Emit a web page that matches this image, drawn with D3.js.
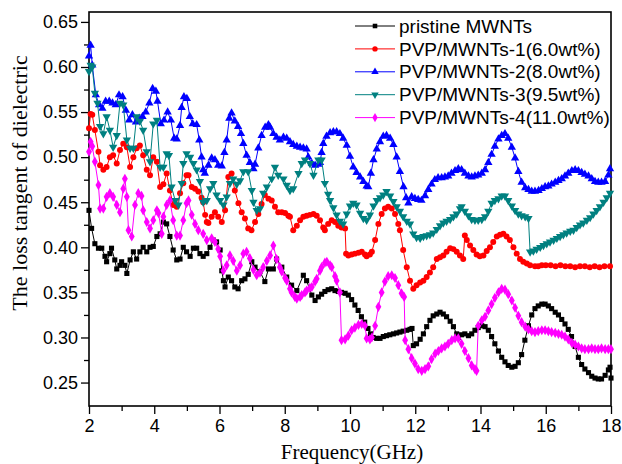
<!DOCTYPE html>
<html>
<head>
<meta charset="utf-8">
<script src="https://cdn.jsdelivr.net/npm/d3@7"></script>
<style>
  body { margin: 0; background: #fff; }
</style>
</head>
<body>
<svg id="chart" width="622" height="464"></svg>
<script>
// [frequency (GHz), loss tangent]
const pristine = [
  [2.00,0.441],[2.08,0.421],[2.18,0.404],[2.29,0.399],[2.39,0.399],[2.49,0.390],[2.54,0.384],[2.64,0.393],
  [2.69,0.399],[2.79,0.386],[2.85,0.376],[2.95,0.380],[3.00,0.384],[3.10,0.380],[3.16,0.371],[3.26,0.386],
  [3.36,0.395],[3.46,0.387],[3.56,0.395],[3.66,0.400],[3.77,0.395],[3.87,0.400],[3.97,0.401],[4.08,0.412],
  [4.18,0.415],[4.28,0.428],[4.38,0.426],[4.48,0.412],[4.58,0.397],[4.69,0.386],[4.79,0.387],[4.89,0.400],
  [4.99,0.395],[5.10,0.390],[5.20,0.399],[5.30,0.399],[5.40,0.393],[5.50,0.390],[5.61,0.393],[5.71,0.400],
  [5.81,0.408],[5.91,0.406],[6.02,0.397],[6.07,0.374],[6.12,0.363],[6.17,0.356],[6.27,0.367],[6.37,0.363],
  [6.47,0.356],[6.57,0.354],[6.68,0.363],[6.78,0.365],[6.88,0.370],[6.99,0.384],[7.09,0.378],[7.24,0.373],
  [7.39,0.362],[7.50,0.376],[7.65,0.376],[7.75,0.387],[7.91,0.378],[8.06,0.367],[8.21,0.358],[8.37,0.352],
  [8.57,0.369],[8.67,0.363],[8.83,0.347],[8.93,0.341],[9.03,0.345],[9.13,0.348],[9.23,0.351],[9.33,0.353],
  [9.44,0.354],[9.54,0.352],[9.64,0.351],[9.74,0.350],[9.85,0.349],[9.95,0.347],[10.05,0.342],[10.15,0.336],
  [10.25,0.330],[10.35,0.323],[10.45,0.317],[10.55,0.310],[10.63,0.304],[10.71,0.300],[10.82,0.299],[10.92,0.299],
  [11.02,0.301],[11.12,0.302],[11.22,0.303],[11.33,0.304],[11.43,0.305],[11.53,0.306],[11.63,0.307],[11.74,0.308],
  [11.84,0.309],[11.90,0.310],[11.94,0.291],[12.04,0.293],[12.15,0.298],[12.25,0.304],[12.35,0.312],[12.45,0.319],
  [12.55,0.324],[12.66,0.326],[12.76,0.328],[12.86,0.326],[12.96,0.323],[13.07,0.318],[13.17,0.312],[13.27,0.304],
  [13.32,0.300],[13.42,0.303],[13.52,0.304],[13.63,0.302],[13.73,0.304],[13.83,0.308],[13.93,0.311],[14.04,0.313],
  [14.14,0.312],[14.24,0.308],[14.34,0.301],[14.44,0.293],[14.55,0.285],[14.65,0.278],[14.75,0.273],[14.85,0.269],
  [14.96,0.267],[15.06,0.268],[15.16,0.272],[15.26,0.281],[15.36,0.297],[15.47,0.313],[15.57,0.325],[15.67,0.332],
  [15.77,0.335],[15.88,0.337],[15.98,0.337],[16.08,0.335],[16.18,0.332],[16.29,0.328],[16.39,0.325],[16.49,0.320],
  [16.59,0.315],[16.69,0.309],[16.79,0.301],[16.90,0.290],[17.00,0.278],[17.10,0.270],[17.20,0.265],[17.31,0.261],
  [17.41,0.257],[17.51,0.255],[17.61,0.254],[17.71,0.254],[17.82,0.258],[17.92,0.264],[17.97,0.267],[18.00,0.255]
];

const pvp1 = [
  [2.00,0.532],[2.05,0.548],[2.10,0.547],[2.18,0.530],[2.29,0.506],[2.34,0.491],[2.44,0.486],[2.54,0.489],
  [2.64,0.500],[2.74,0.502],[2.85,0.493],[2.95,0.508],[3.05,0.515],[3.16,0.511],[3.26,0.489],[3.36,0.500],
  [3.46,0.510],[3.56,0.513],[3.66,0.502],[3.77,0.486],[3.87,0.480],[3.97,0.500],[4.08,0.495],[4.18,0.467],
  [4.28,0.470],[4.38,0.482],[4.48,0.463],[4.58,0.447],[4.69,0.445],[4.79,0.460],[4.89,0.471],[4.99,0.480],
  [5.05,0.480],[5.15,0.467],[5.25,0.465],[5.35,0.462],[5.45,0.455],[5.50,0.450],[5.56,0.436],[5.61,0.428],
  [5.66,0.427],[5.76,0.434],[5.86,0.439],[5.96,0.434],[6.07,0.428],[6.17,0.441],[6.27,0.478],[6.37,0.482],
  [6.47,0.463],[6.58,0.449],[6.68,0.439],[6.78,0.432],[6.88,0.421],[6.98,0.419],[7.09,0.428],[7.19,0.437],
  [7.29,0.448],[7.39,0.458],[7.50,0.454],[7.60,0.452],[7.70,0.445],[7.80,0.439],[7.91,0.439],[8.01,0.438],
  [8.11,0.435],[8.16,0.434],[8.26,0.419],[8.37,0.424],[8.47,0.430],[8.57,0.434],[8.67,0.435],[8.77,0.436],
  [8.88,0.437],[8.98,0.435],[9.08,0.430],[9.18,0.422],[9.23,0.419],[9.33,0.426],[9.44,0.430],[9.54,0.428],
  [9.64,0.424],[9.74,0.422],[9.85,0.421],[9.88,0.393],[9.95,0.391],[10.05,0.392],[10.15,0.393],[10.26,0.394],
  [10.36,0.395],[10.46,0.392],[10.51,0.390],[10.61,0.392],[10.67,0.395],[10.77,0.408],[10.87,0.426],[10.97,0.437],
  [11.07,0.443],[11.17,0.445],[11.28,0.443],[11.38,0.437],[11.48,0.426],[11.53,0.419],[11.63,0.397],[11.74,0.378],
  [11.84,0.363],[11.94,0.354],[12.04,0.358],[12.15,0.361],[12.25,0.363],[12.35,0.367],[12.45,0.372],[12.55,0.378],
  [12.66,0.387],[12.76,0.389],[12.86,0.391],[12.96,0.395],[13.07,0.399],[13.17,0.398],[13.27,0.395],[13.37,0.391],
  [13.47,0.387],[13.52,0.413],[13.58,0.408],[13.68,0.402],[13.78,0.397],[13.88,0.392],[13.98,0.390],[14.09,0.391],
  [14.19,0.396],[14.29,0.400],[14.39,0.406],[14.50,0.412],[14.60,0.414],[14.70,0.415],[14.80,0.412],[14.90,0.408],
  [15.01,0.400],[15.11,0.393],[15.21,0.387],[15.31,0.384],[15.42,0.382],[15.52,0.380],[15.67,0.379],[15.77,0.379],
  [15.88,0.380],[16.00,0.380],[16.15,0.380],[16.30,0.379],[16.45,0.380],[16.60,0.379],[16.75,0.379],[16.90,0.378],
  [17.05,0.379],[17.20,0.379],[17.35,0.378],[17.50,0.379],[17.65,0.378],[17.80,0.379],[17.97,0.379]
];

const pvp2 = [
  [2.00,0.612],[2.05,0.624],[2.10,0.602],[2.21,0.569],[2.31,0.558],[2.41,0.554],[2.51,0.562],[2.62,0.562],
  [2.72,0.560],[2.82,0.558],[2.92,0.569],[3.03,0.567],[3.13,0.552],[3.23,0.541],[3.33,0.547],[3.44,0.539],
  [3.54,0.543],[3.64,0.545],[3.74,0.550],[3.85,0.560],[3.95,0.576],[4.05,0.573],[4.10,0.562],[4.20,0.537],
  [4.30,0.541],[4.41,0.550],[4.51,0.541],[4.61,0.521],[4.69,0.520],[4.79,0.535],[4.84,0.555],[4.91,0.567],
  [5.00,0.565],[5.09,0.545],[5.18,0.537],[5.30,0.536],[5.38,0.519],[5.45,0.500],[5.50,0.486],[5.55,0.482],
  [5.66,0.491],[5.76,0.499],[5.86,0.497],[5.96,0.491],[6.07,0.490],[6.15,0.505],[6.22,0.519],[6.30,0.543],
  [6.37,0.549],[6.47,0.540],[6.57,0.534],[6.66,0.526],[6.73,0.515],[6.83,0.502],[6.93,0.494],[7.04,0.487],
  [7.09,0.492],[7.19,0.510],[7.29,0.524],[7.40,0.533],[7.50,0.536],[7.55,0.533],[7.65,0.526],[7.75,0.522],
  [7.85,0.519],[7.96,0.522],[8.06,0.521],[8.16,0.517],[8.26,0.514],[8.37,0.512],[8.47,0.511],[8.57,0.510],
  [8.67,0.509],[8.72,0.500],[8.83,0.493],[8.93,0.491],[9.03,0.492],[9.08,0.494],[9.13,0.505],[9.18,0.515],
  [9.28,0.523],[9.39,0.527],[9.49,0.528],[9.59,0.528],[9.69,0.526],[9.79,0.521],[9.90,0.513],[10.00,0.501],
  [10.10,0.489],[10.20,0.483],[10.31,0.478],[10.41,0.473],[10.51,0.468],[10.56,0.467],[10.64,0.482],[10.72,0.497],
  [10.82,0.509],[10.92,0.517],[11.02,0.523],[11.12,0.524],[11.23,0.521],[11.33,0.514],[11.43,0.500],[11.53,0.484],
  [11.64,0.467],[11.72,0.455],[11.79,0.449],[11.89,0.456],[11.99,0.454],[12.09,0.453],[12.19,0.452],[12.30,0.457],
  [12.40,0.464],[12.50,0.470],[12.60,0.475],[12.70,0.477],[12.81,0.477],[12.91,0.478],[13.01,0.479],[13.11,0.482],
  [13.22,0.485],[13.32,0.487],[13.42,0.486],[13.52,0.482],[13.63,0.479],[13.73,0.478],[13.83,0.479],[13.93,0.480],
  [14.04,0.482],[14.14,0.486],[14.24,0.494],[14.34,0.503],[14.44,0.512],[14.55,0.520],[14.65,0.524],[14.75,0.526],
  [14.85,0.521],[14.96,0.511],[15.06,0.499],[15.16,0.484],[15.26,0.472],[15.37,0.466],[15.47,0.464],[15.57,0.462],
  [15.67,0.462],[15.78,0.463],[15.88,0.465],[15.98,0.467],[16.08,0.468],[16.18,0.470],[16.29,0.472],[16.39,0.474],
  [16.49,0.476],[16.59,0.479],[16.69,0.482],[16.80,0.485],[16.90,0.486],[17.00,0.485],[17.10,0.483],[17.20,0.481],
  [17.31,0.479],[17.41,0.476],[17.51,0.473],[17.61,0.472],[17.71,0.472],[17.82,0.473],[17.92,0.480],[17.97,0.487]
];

const pvp3 = [
  [2.00,0.595],[2.05,0.602],[2.10,0.600],[2.18,0.571],[2.26,0.560],[2.34,0.534],[2.44,0.526],[2.54,0.545],
  [2.64,0.530],[2.74,0.511],[2.85,0.524],[2.95,0.560],[3.05,0.558],[3.16,0.519],[3.26,0.510],[3.36,0.510],
  [3.46,0.545],[3.56,0.540],[3.66,0.530],[3.77,0.506],[3.87,0.495],[3.97,0.537],[4.08,0.541],[4.18,0.489],
  [4.28,0.489],[4.38,0.504],[4.45,0.502],[4.53,0.467],[4.64,0.452],[4.74,0.447],[4.84,0.471],[4.89,0.493],
  [4.99,0.504],[5.10,0.500],[5.20,0.493],[5.30,0.486],[5.40,0.473],[5.50,0.450],[5.61,0.452],[5.71,0.465],
  [5.81,0.471],[5.91,0.458],[6.02,0.452],[6.12,0.447],[6.22,0.456],[6.32,0.471],[6.42,0.476],[6.53,0.470],
  [6.63,0.474],[6.73,0.484],[6.88,0.484],[6.99,0.463],[7.04,0.450],[7.14,0.441],[7.24,0.443],[7.34,0.460],
  [7.45,0.467],[7.60,0.476],[7.70,0.489],[7.80,0.480],[7.96,0.476],[8.06,0.469],[8.16,0.463],[8.26,0.465],
  [8.42,0.482],[8.52,0.493],[8.62,0.497],[8.77,0.493],[8.88,0.480],[9.03,0.497],[9.13,0.497],[9.23,0.471],
  [9.33,0.459],[9.39,0.452],[9.49,0.444],[9.59,0.436],[9.69,0.429],[9.79,0.426],[9.90,0.437],[10.00,0.446],
  [10.10,0.449],[10.20,0.447],[10.31,0.438],[10.41,0.432],[10.51,0.430],[10.61,0.436],[10.72,0.446],[10.82,0.452],
  [10.92,0.455],[11.02,0.458],[11.12,0.462],[11.23,0.457],[11.33,0.451],[11.43,0.445],[11.53,0.440],[11.63,0.434],
  [11.74,0.429],[11.84,0.426],[11.94,0.415],[12.04,0.411],[12.15,0.410],[12.25,0.412],[12.35,0.413],[12.45,0.414],
  [12.55,0.416],[12.66,0.420],[12.76,0.424],[12.86,0.427],[12.96,0.429],[13.07,0.431],[13.17,0.434],[13.27,0.437],
  [13.37,0.443],[13.42,0.445],[13.52,0.440],[13.63,0.435],[13.73,0.431],[13.83,0.430],[13.93,0.430],[14.04,0.431],
  [14.14,0.434],[14.24,0.440],[14.34,0.449],[14.44,0.452],[14.55,0.454],[14.65,0.457],[14.75,0.457],[14.85,0.452],
  [14.96,0.446],[15.06,0.441],[15.16,0.437],[15.26,0.435],[15.37,0.434],[15.47,0.432],[15.52,0.395],[15.62,0.396],
  [15.72,0.398],[15.83,0.400],[15.93,0.402],[16.03,0.404],[16.13,0.406],[16.24,0.408],[16.34,0.410],[16.44,0.412],
  [16.54,0.414],[16.64,0.416],[16.75,0.418],[16.85,0.419],[16.95,0.422],[17.05,0.425],[17.15,0.427],[17.26,0.430],
  [17.36,0.433],[17.46,0.437],[17.56,0.441],[17.66,0.445],[17.77,0.450],[17.87,0.455],[17.97,0.460]
];

const pvp4 = [
  [2.00,0.506],[2.05,0.517],[2.10,0.512],[2.18,0.495],[2.29,0.469],[2.34,0.443],[2.44,0.443],[2.54,0.456],
  [2.64,0.460],[2.74,0.456],[2.85,0.447],[2.95,0.439],[3.05,0.465],[3.10,0.476],[3.16,0.456],[3.21,0.419],
  [3.31,0.412],[3.41,0.447],[3.51,0.460],[3.61,0.457],[3.66,0.441],[3.77,0.428],[3.87,0.421],[3.97,0.430],
  [4.08,0.441],[4.13,0.438],[4.23,0.415],[4.28,0.434],[4.38,0.447],[4.48,0.452],[4.58,0.430],[4.69,0.413],
  [4.79,0.413],[4.89,0.430],[4.99,0.449],[5.05,0.452],[5.15,0.436],[5.25,0.426],[5.35,0.419],[5.50,0.415],
  [5.61,0.408],[5.76,0.410],[5.86,0.406],[5.96,0.398],[6.02,0.390],[6.12,0.374],[6.22,0.380],[6.32,0.391],
  [6.42,0.385],[6.53,0.374],[6.63,0.380],[6.73,0.393],[6.83,0.395],[6.93,0.388],[7.04,0.375],[7.14,0.369],
  [7.24,0.372],[7.34,0.378],[7.45,0.385],[7.55,0.391],[7.65,0.402],[7.75,0.387],[7.85,0.378],[7.91,0.373],
  [8.01,0.366],[8.06,0.363],[8.16,0.354],[8.21,0.350],[8.31,0.345],[8.37,0.343],[8.47,0.345],[8.52,0.347],
  [8.62,0.350],[8.67,0.352],[8.77,0.355],[8.83,0.356],[8.93,0.362],[8.98,0.365],[9.08,0.374],[9.13,0.378],
  [9.23,0.383],[9.29,0.384],[9.39,0.380],[9.44,0.378],[9.54,0.368],[9.59,0.363],[9.69,0.350],[9.74,0.297],
  [9.85,0.298],[9.95,0.302],[10.05,0.308],[10.15,0.311],[10.26,0.314],[10.36,0.315],[10.46,0.313],[10.51,0.299],
  [10.61,0.298],[10.67,0.300],[10.77,0.313],[10.87,0.334],[10.97,0.350],[11.07,0.362],[11.17,0.368],[11.28,0.369],
  [11.38,0.366],[11.48,0.358],[11.58,0.349],[11.66,0.345],[11.69,0.297],[11.79,0.287],[11.89,0.277],[11.99,0.271],
  [12.09,0.265],[12.20,0.263],[12.30,0.265],[12.40,0.268],[12.50,0.276],[12.61,0.282],[12.71,0.285],[12.81,0.288],
  [12.91,0.290],[13.01,0.293],[13.12,0.297],[13.22,0.299],[13.32,0.299],[13.42,0.293],[13.52,0.285],[13.63,0.277],
  [13.73,0.269],[13.83,0.265],[13.88,0.263],[13.93,0.313],[14.04,0.319],[14.14,0.323],[14.24,0.330],[14.34,0.337],
  [14.44,0.344],[14.55,0.350],[14.65,0.354],[14.75,0.353],[14.85,0.348],[14.96,0.341],[15.06,0.333],[15.16,0.324],
  [15.26,0.317],[15.37,0.312],[15.47,0.309],[15.57,0.307],[15.67,0.306],[15.77,0.307],[15.88,0.308],[15.98,0.308],
  [16.08,0.307],[16.18,0.306],[16.29,0.305],[16.39,0.304],[16.49,0.303],[16.59,0.301],[16.69,0.298],[16.80,0.294],
  [16.90,0.292],[17.00,0.290],[17.10,0.288],[17.20,0.287],[17.31,0.287],[17.41,0.288],[17.51,0.287],[17.61,0.287],
  [17.71,0.288],[17.82,0.287],[17.92,0.287],[18.00,0.287]
];

const seriesNames = [
  'pristine MWNTs',
  'PVP/MWNTs-1(6.0wt%)',
  'PVP/MWNTs-2(8.0wt%)',
  'PVP/MWNTs-3(9.5wt%)',
  'PVP/MWNTs-4(11.0wt%)'
];
const xTicks = [2, 4, 6, 8, 10, 12, 14, 16, 18];
const xMinorTicks = [3, 5, 7, 9, 11, 13, 15, 17];
const yTicks = [0.25, 0.30, 0.35, 0.40, 0.45, 0.50, 0.55, 0.60, 0.65];
const yMinorTicks = [0.275, 0.325, 0.375, 0.425, 0.475, 0.525, 0.575, 0.625];

const sansFont = '"Liberation Sans", Arial, sans-serif';
const serifFont = '"Liberation Serif", "Times New Roman", serif';

const svg = d3.select('#chart');
const plotLeft = 89, plotRight = 611, plotTop = 12, plotBottom = 406;

const x = d3.scaleLinear().domain([2, 18]).range([plotLeft, plotRight]);
const y = d3.scaleLinear().domain([0.224, 0.661]).range([plotBottom, plotTop]);

const series = [
  {data: pristine, color: '#000000', symbol: d3.symbolSquare, size: 26, rotate: 0},
  {data: pvp1, color: '#ff0000', symbol: d3.symbolCircle, size: 28, rotate: 0},
  {data: pvp2, color: '#0000ff', symbol: d3.symbolTriangle, size: 30, rotate: 0},
  {data: pvp3, color: '#008080', symbol: d3.symbolTriangle, size: 30, rotate: 180},
  {data: pvp4, color: '#ff00ff', symbol: d3.symbolDiamond, size: 30, rotate: 0}
];

// axes
svg.append('g')
  .attr('transform', `translate(${plotLeft},0)`)
  .call(d3.axisLeft(y).tickValues(yTicks).tickFormat(d3.format('.2f'))
    .tickSize(8).tickSizeOuter(0).tickPadding(3));
svg.append('g')
  .attr('transform', `translate(${plotLeft},0)`)
  .call(d3.axisLeft(y).tickValues(yMinorTicks).tickFormat('').tickSize(5).tickSizeOuter(0));

svg.append('g')
  .attr('transform', `translate(0,${plotBottom})`)
  .call(d3.axisBottom(x).tickValues(xTicks).tickFormat(d3.format('d'))
    .tickSize(8).tickSizeOuter(0).tickPadding(5));
svg.append('g')
  .attr('transform', `translate(0,${plotBottom})`)
  .call(d3.axisBottom(x).tickValues(xMinorTicks).tickFormat('').tickSize(5).tickSizeOuter(0));

svg.selectAll('.domain').remove();
svg.selectAll('.tick line').attr('stroke', '#000').attr('stroke-width', 1.3);
svg.selectAll('.tick text')
  .attr('fill', '#000')
  .style('font-family', sansFont)
  .style('font-size', '18px');

// frame
svg.append('rect')
  .attr('x', plotLeft).attr('y', plotTop)
  .attr('width', plotRight - plotLeft).attr('height', plotBottom - plotTop)
  .attr('fill', 'none').attr('stroke', '#000').attr('stroke-width', 1.6);

// axis titles
svg.append('text')
  .attr('x', 352).attr('y', 459)
  .attr('text-anchor', 'middle')
  .style('font-family', serifFont).style('font-size', '21px')
  .text('Frequency(GHz)');

svg.append('text')
  .attr('transform', 'translate(27,183) rotate(-90)')
  .attr('text-anchor', 'middle')
  .style('font-family', serifFont).style('font-size', '22px')
  .text('The loss tangent of dielectric');

// lines and markers
const line = d3.line().x(d => x(d[0])).y(d => y(d[1]));

series.forEach(s => {
  const g = svg.append('g');
  g.append('path')
    .datum(s.data)
    .attr('d', line)
    .attr('fill', 'none')
    .attr('stroke', s.color)
    .attr('stroke-width', 1);
  g.selectAll('path.pt')
    .data(s.data)
    .enter()
    .append('path')
    .attr('class', 'pt')
    .attr('d', d3.symbol().type(s.symbol).size(s.size))
    .attr('transform', d => `translate(${x(d[0])},${y(d[1])}) rotate(${s.rotate})`)
    .attr('fill', s.color);
});

// legend
const legend = svg.append('g');
series.forEach((s, i) => {
  const ly = 26 + i * 22.9;
  legend.append('line')
    .attr('x1', 355).attr('x2', 395)
    .attr('y1', ly).attr('y2', ly)
    .attr('stroke', s.color).attr('stroke-width', 1);
  legend.append('path')
    .attr('d', d3.symbol().type(s.symbol).size(s.size * 0.8))
    .attr('transform', `translate(375,${ly}) rotate(${s.rotate})`)
    .attr('fill', s.color);
  legend.append('text')
    .attr('x', 399).attr('y', ly)
    .attr('dy', '0.35em')
    .style('font-family', sansFont).style('font-size', '19px')
    .text(seriesNames[i]);
});
</script>
</body>
</html>
